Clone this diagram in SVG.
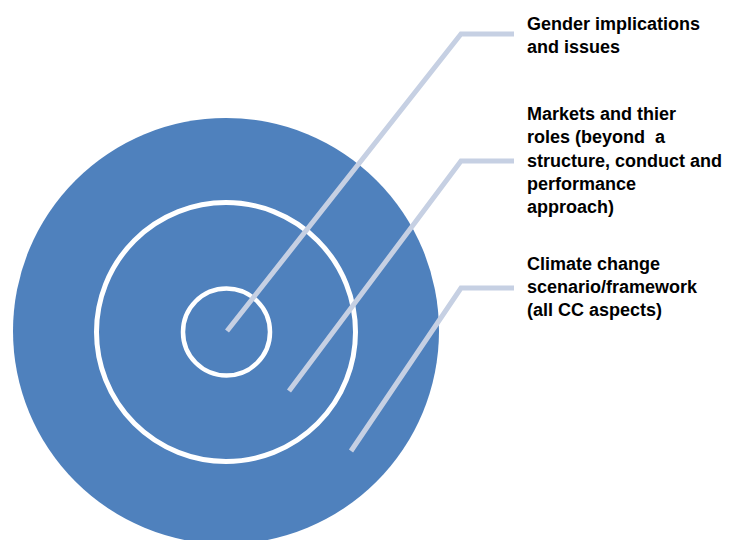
<svg xmlns="http://www.w3.org/2000/svg" width="730" height="540" viewBox="0 0 730 540">
<style>
.ring{fill:none;stroke:#ffffff}
.conn{fill:none;stroke:#c6d0e3;stroke-width:5;stroke-linejoin:miter}
.lbl{font-family:"Liberation Sans",Arial,sans-serif;font-weight:bold;font-size:18px;fill:#000000}
</style>
<rect width="730" height="540" fill="#ffffff"/>
<g id="outer">
<circle cx="226" cy="331" r="213" fill="#4f81bd"/>
</g>
<g id="middle">
<circle class="ring" cx="226" cy="332" r="129.5" stroke-width="5"/>
</g>
<g id="inner">
<circle class="ring" cx="226.5" cy="332" r="43.5" stroke-width="4.5"/>
</g>
<g id="connectors">
<polyline class="conn" points="227,331 461,34 514,34"/>
<polyline class="conn" points="289,391 461,161 514,161"/>
<polyline class="conn" points="351,451 461,288 514,288"/>
</g>
<g id="label-gender">
<text class="lbl" x="527" y="29.5">Gender implications</text>
<text class="lbl" x="527" y="52.8">and issues</text>
</g>
<g id="label-markets">
<text class="lbl" x="527" y="120">Markets and thier</text>
<text class="lbl" x="527" y="143.3" xml:space="preserve">roles (beyond  a</text>
<text class="lbl" x="527" y="166.6">structure, conduct and</text>
<text class="lbl" x="527" y="189.9">performance</text>
<text class="lbl" x="527" y="213.2">approach)</text>
</g>
<g id="label-climate">
<text class="lbl" x="527" y="269.5">Climate change</text>
<text class="lbl" x="527" y="292.8">scenario/framework</text>
<text class="lbl" x="527" y="316.1">(all CC aspects)</text>
</g>
</svg>
